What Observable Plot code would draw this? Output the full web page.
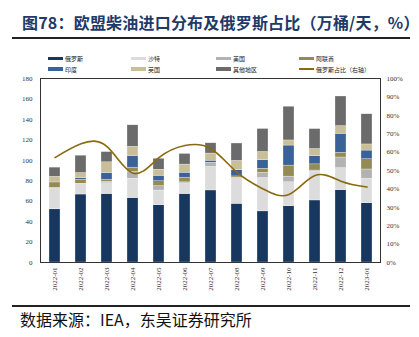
<!DOCTYPE html>
<html><head><meta charset="utf-8">
<script src="https://cdn.jsdelivr.net/npm/d3@7"></script>
<script src="https://cdn.jsdelivr.net/npm/@observablehq/plot@0.6"></script>
<style>
body{margin:0;background:#fff;}
#wrap{position:relative;width:419px;height:337px;overflow:hidden;font-family:"Noto Sans CJK SC",sans-serif;}
#wrap svg{position:absolute;left:0;top:0;}
.title{position:absolute;left:22px;top:13.5px;font-size:16px;line-height:16px;font-weight:700;color:#1f3a68;white-space:nowrap;letter-spacing:0.2px;}
.rule{position:absolute;left:12px;width:398px;background:#222;}
.foot{position:absolute;left:20px;top:311px;font-size:16px;line-height:16px;color:#111;white-space:nowrap;}
.leg{position:absolute;height:8px;display:flex;align-items:center;font-size:6px;color:#222;white-space:nowrap;}
.sw{width:15px;height:3.5px;margin-right:2px;}
</style></head><body><div id="wrap"></div>
<script>
const months = ["2022-01","2022-02","2022-03","2022-04","2022-05","2022-06","2022-07","2022-08","2022-09","2022-10","2022-11","2022-12","2023-01"];
const seriesNames = ["俄罗斯","沙特","美国","阿联酋","印度","英国","其他地区"];
const russia = [52,66.5,67,63,56,67,70.5,57.4,50,55,60.7,70.8,58];
const saudi  = [20.5,10,10.5,19,14.4,10.4,23,25,32.7,23.5,28.3,21.5,24];
const usa    = [0.5,0.5,1.5,6.5,4.3,1,3.8,0.5,5,5.5,1,10.4,9];
const uae    = [5.3,4,2,4.3,4.8,4.6,0.3,1.3,4,10.8,6,4.6,10];
const india  = [0,1.5,6.5,11.4,5.3,4.8,2,6.2,8.4,19.6,8,18.6,8.5];
const uk     = [5.5,5,10.5,9,6,8,7,9,8,5,7,7.5,6];
const other  = [9,17,10,21,10.7,10.4,10,17,22.5,33,19.5,29,29.5];
const share  = [57,64.5,63,48.5,57,63.6,61.8,49,40,37,47.3,44.2,41];
const leftTicks = [0,20,40,60,80,100,120,140,160,180];
const rightTicks = [0,10,20,30,40,50,60,70,80,90,100];
const lineName = "俄罗斯占比（右轴）";
const colors = ["#17375e","#dcdcdc","#b2b2b2","#948a54","#3a6299","#c8bf98","#6b6b6b"];
const lineColor = "#8a6a0c";

const seriesValues = [russia,saudi,usa,uae,india,uk,other];
const bars = [];
months.forEach((m,i)=>seriesNames.forEach((s,j)=>bars.push({month:m, series:s, value:seriesValues[j][i]})));
const lineData = months.map((m,i)=>({month:m, share:share[i]}));
const k = 180/100;

const chart = Plot.plot({
  width:419, height:300,
  marginTop:78, marginBottom:38, marginLeft:40, marginRight:39,
  style:{background:"transparent", fontFamily:"'Liberation Serif', serif", fontSize:"7px", color:"#333"},
  x:{domain:months, paddingInner:0.58, paddingOuter:0.29, axis:null},
  y:{domain:[0,180], axis:null},
  color:{domain:seriesNames, range:colors},
  marks:[
    Plot.barY(bars,{x:"month", y:"value", fill:"series", stroke:"#ffffff", strokeWidth:0.4, strokeOpacity:0.7}),
    Plot.line(lineData,{x:"month", y:d=>d.share*k, stroke:lineColor, strokeWidth:1.6, curve:"natural"}),
    Plot.frame({stroke:"#333", strokeWidth:1}),
    Plot.axisY(leftTicks,{anchor:"left", tickSize:0, tickPadding:8, fontSize:7, label:null}),
    Plot.axisY(rightTicks.map(d=>d*k),{anchor:"right", tickSize:0, tickPadding:6, fontSize:7, label:null, tickFormat:d=>Math.round(d/k)+"%"}),
    Plot.axisX({tickRotate:-90, tickSize:0, tickPadding:5, fontSize:7, label:null})
  ]
});
const wrap = document.getElementById("wrap");
wrap.appendChild(chart);

function add(cls, html, style){const d=document.createElement("div");d.className=cls;if(html!=null)d.innerHTML=html;Object.assign(d.style,style||{});wrap.appendChild(d);return d;}
add("title","图78：欧盟柴油进口分布及俄罗斯占比（万桶/天，%）");
add("rule",null,{top:"36.8px",height:"2px"});
add("rule",null,{top:"305px",height:"1.5px"});
add("foot","数据来源：IEA，东吴证券研究所");

const legItems = [
  {name:seriesNames[0], color:colors[0], x:48, y:58.3},
  {name:seriesNames[1], color:colors[1], x:131, y:58.3},
  {name:seriesNames[2], color:colors[2], x:216, y:58.3},
  {name:seriesNames[3], color:colors[3], x:299, y:58.3},
  {name:seriesNames[4], color:colors[4], x:48, y:69},
  {name:seriesNames[5], color:colors[5], x:131, y:69},
  {name:seriesNames[6], color:colors[6], x:216, y:69},
  {name:lineName, color:lineColor, x:299, y:69, line:true}
];
legItems.forEach(it=>{
  const d = add("leg",null,{left:it.x+"px", top:(it.y-4)+"px"});
  const s = document.createElement("div"); s.className="sw"; s.style.background=it.color; if(it.line) s.style.height="1.6px";
  d.appendChild(s);
  const t = document.createElement("span"); t.textContent=it.name; d.appendChild(t);
});
</script></body></html>
